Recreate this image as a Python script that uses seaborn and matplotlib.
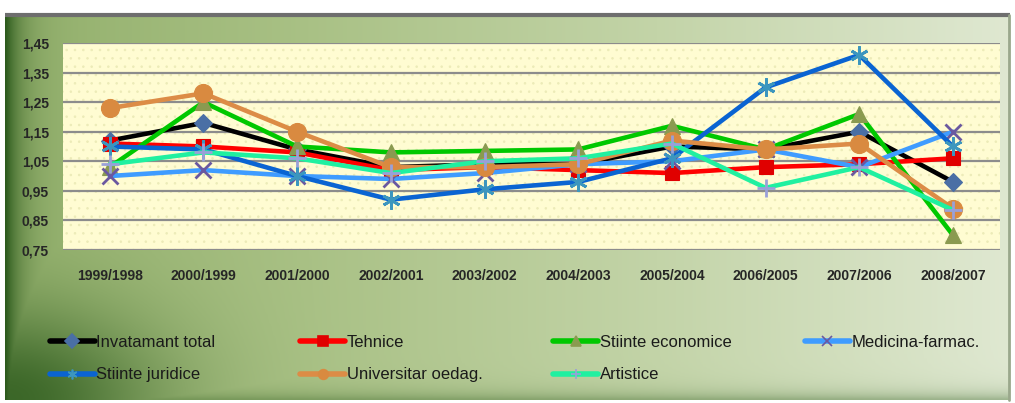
import matplotlib
matplotlib.use("Agg")
import matplotlib.pyplot as plt
import matplotlib.colors as mcolors
from matplotlib.lines import Line2D
from matplotlib.patches import Rectangle
import numpy as np
import pandas as pd
import seaborn as sns

periods = ["1999/1998", "2000/1999", "2001/2000", "2002/2001", "2003/2002",
           "2004/2003", "2005/2004", "2006/2005", "2007/2006", "2008/2007"]

invatamant_total = [1.12, 1.18, 1.09, 1.03, 1.04, 1.04, 1.10, 1.09, 1.15, 0.98]
tehnice = [1.11, 1.10, 1.08, 1.02, 1.03, 1.02, 1.01, 1.03, 1.04, 1.06]
stiinte_economice = [1.03, 1.25, 1.10, 1.08, 1.085, 1.09, 1.17, 1.09, 1.21, 0.80]
medicina_farmac = [1.00, 1.02, 1.00, 0.99, 1.01, 1.04, 1.05, 1.09, 1.03, 1.15]
stiinte_juridice = [1.10, 1.09, 1.00, 0.92, 0.955, 0.98, 1.06, 1.30, 1.41, 1.10]
universitar_pedag = [1.23, 1.28, 1.15, 1.03, 1.03, 1.04, 1.12, 1.09, 1.11, 0.89]
artistice = [1.04, 1.08, 1.06, 1.01, 1.05, 1.06, 1.11, 0.96, 1.03, 0.885]

series_names = ["Invatamant total", "Tehnice", "Stiinte economice", "Medicina-farmac.",
                "Stiinte juridice", "Universitar oedag.", "Artistice"]
series_values = [invatamant_total, tehnice, stiinte_economice, medicina_farmac,
                 stiinte_juridice, universitar_pedag, artistice]

# line colour, marker, marker colour, marker size
styles = {
    "Invatamant total": ("#000000", "D", "#4a6fa5", 9),
    "Tehnice": ("#ff0000", "s", "#e00000", 10),
    "Stiinte economice": ("#00c800", "^", "#8a9a50", 11),
    "Medicina-farmac.": ("#3f9cff", "x", "#6a58a0", 11),
    "Stiinte juridice": ("#0a64d2", (6, 2, 0), "#3c96be", 13),
    "Universitar oedag.": ("#dc8c46", "o", "#d98a40", 13),
    "Artistice": ("#20f0a0", "+", "#9aa0d8", 13),
}

rows = []
for name, vals in zip(series_names, series_values):
    for p, v in zip(periods, vals):
        rows.append({"Period": p, "Value": v, "Series": name})
df = pd.DataFrame(rows)

sns.set_style("white")
plt.rcParams["font.family"] = ["Liberation Sans Narrow", "Liberation Sans", "DejaVu Sans"]
plt.rcParams["hatch.linewidth"] = 0.6

fig = plt.figure(figsize=(10.15, 4.03), dpi=100)

# green gradient background
bg = fig.add_axes([0, 0, 1, 1])
bg.set_xlim(0, 1015)
bg.set_ylim(403, 0)
bg.axis("off")
px = np.linspace(5, 1010, 500)
py = np.linspace(14, 400, 200)
PX, PY = np.meshgrid(px, py)
light = mcolors.LinearSegmentedColormap.from_list(
    "g", [(0.0, "#93b06c"), (0.3, "#a9c185"), (0.65, "#c3d4a8"), (1.0, "#dfe8d1")])
img = light(np.clip((PX - 5) / 1005, 0, 1))[..., :3]
dark = np.array(mcolors.to_rgb("#2c5a1c"))
w = np.maximum(np.exp(-(PX - 5) / 16),
               0.85 * np.exp(-(((PX - 5) / 150) ** 2 + ((400 - PY) / 90) ** 2)))
w = np.maximum(w, 0.35 * np.exp(-(400 - PY) / 8))
img = img * (1 - w[..., None]) + dark * w[..., None]
bg.imshow(img, extent=(5, 1010, 400, 14), aspect="auto", interpolation="bilinear")
bg.plot([5, 1010], [15, 15], color="#6e6e6e", lw=3, solid_capstyle="butt")
bg.plot([1009, 1009], [15, 400], color="#9aa88c", lw=2)

ax = fig.add_axes([0.062, 0.380, 0.923, 0.513])
ax.set_facecolor("#fffcd2")
ax.add_patch(Rectangle((0, 0), 1, 1, transform=ax.transAxes, facecolor="none",
                       hatch="..", edgecolor="#ecebb8", lw=0, zorder=0))

for name in series_names:
    lc, mk, mc, ms = styles[name]
    sub = df[df["Series"] == name]
    sns.lineplot(data=sub, x="Period", y="Value", ax=ax, color=lc, lw=3.3,
                 marker=mk, markersize=ms, markerfacecolor=mc, markeredgecolor=mc,
                 markeredgewidth=2 if mk in ("x", "+", (6, 2, 0)) else 0.8,
                 legend=False, zorder=3)

yt = [0.75, 0.85, 0.95, 1.05, 1.15, 1.25, 1.35, 1.45]
ax.set_ylim(0.75, 1.45)
ax.set_yticks(yt)
ax.set_yticklabels([f"{v:.2f}".replace(".", ",") for v in yt])
ax.set_xlim(-0.5, 9.5)
ax.grid(axis="y", color="#8c8c8c", lw=1.6)
ax.set_axisbelow(True)
for s in ax.spines.values():
    s.set_visible(False)
ax.tick_params(axis="both", length=0, labelsize=10, colors="#262626")
ax.tick_params(axis="y", pad=10)
ax.tick_params(axis="x", pad=14)
for lab in ax.get_xticklabels() + ax.get_yticklabels():
    lab.set_fontweight("bold")
ax.set_xlabel("")
ax.set_ylabel("")

# legend: four columns placed like the original
handles = {}
for name in series_names:
    lc, mk, mc, ms = styles[name]
    handles[name] = Line2D([], [], color=lc, lw=4, marker=mk, markersize=7,
                           markerfacecolor=mc, markeredgecolor=mc, markeredgewidth=1.2)
columns = [["Invatamant total", "Stiinte juridice"],
           ["Tehnice", "Universitar oedag."],
           ["Stiinte economice", "Artistice"],
           ["Medicina-farmac."]]
col_x = [0.049, 0.296, 0.545, 0.793]
for cx, names in zip(col_x, columns):
    fig.legend([handles[n] for n in names], names, loc="upper left",
               bbox_to_anchor=(cx, 0.169), frameon=False, fontsize=12,
               handlelength=2.7, handletextpad=0.1, labelspacing=1.05,
               borderaxespad=0, borderpad=0, labelcolor="#1a1a1a")

fig.savefig("out.png", dpi=100)
